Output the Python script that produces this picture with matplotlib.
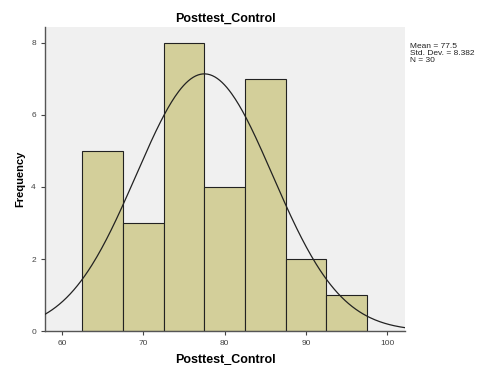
import numpy as np
import matplotlib
matplotlib.use("Agg")
import matplotlib.pyplot as plt

plt.rcParams['font.family'] = ['Liberation Sans', 'DejaVu Sans']

# histogram data (SPSS output)
bin_edges = [62.5, 67.5, 72.5, 77.5, 82.5, 87.5, 92.5, 97.5]
counts = [5, 3, 8, 4, 7, 2, 1]
mean = 77.5
sd = 8.382
n = 30
xticks = [60, 70, 80, 90, 100]
yticks = [0, 2, 4, 6, 8]

fig = plt.figure(figsize=(4.83, 3.65), dpi=100)
ax = fig.add_axes([0.093, 0.093, 0.746, 0.833])
ax.set_facecolor('#f0f0f0')

widths = np.diff(bin_edges)
ax.bar(bin_edges[:-1], counts, width=widths, align='edge',
       color='#d3cf9a', edgecolor='#222222', linewidth=0.8, zorder=2)

# normal curve scaled to counts
xs = np.linspace(57.9, 102.2, 300)
bw = widths[0]
ys = n * bw / (sd * np.sqrt(2 * np.pi)) * np.exp(-0.5 * ((xs - mean) / sd) ** 2)
ax.plot(xs, ys, color='#222222', linewidth=0.9, zorder=3)

ax.set_xlim(57.9, 102.2)
ax.set_ylim(0, 8.44)
ax.set_xticks(xticks)
ax.set_yticks(yticks)
ax.tick_params(labelsize=6, colors='#444444', length=3, width=0.8)
for s in ['top', 'right']:
    ax.spines[s].set_visible(False)
for s in ['left', 'bottom']:
    ax.spines[s].set_color('#555555')
    ax.spines[s].set_linewidth(1.0)

ax.set_title('Posttest_Control', fontsize=9, fontweight='bold', pad=4)
ax.set_xlabel('Posttest_Control', fontsize=9, fontweight='bold', labelpad=5)
ax.set_ylabel('Frequency', fontsize=8, fontweight='bold', labelpad=4)

fig.text(0.849, 0.882, 'Mean = %s\nStd. Dev. = %s\nN = %d' % (mean, sd, n),
         fontsize=6, va='top', ha='left', linespacing=0.95, color='#222222')

fig.savefig('out.png', dpi=100)
